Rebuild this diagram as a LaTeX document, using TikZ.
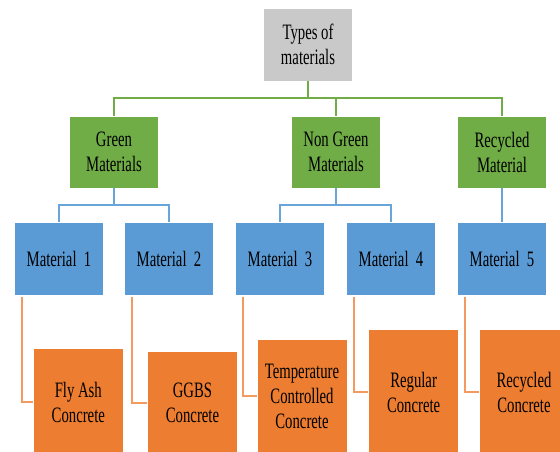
\documentclass[tikz,border=0pt]{standalone}
\usepackage{fontspec}
\newfontfamily\nf[FakeStretch=0.67]{Liberation Serif}
\definecolor{cgray}{HTML}{C9C9C9}
\definecolor{cgreen}{HTML}{70AD47}
\definecolor{cblue}{HTML}{5B9BD5}
\definecolor{corange}{HTML}{ED7D31}
\definecolor{clorange}{HTML}{F29A60}
\definecolor{clblue}{HTML}{6AA5DA}
\tikzset{
  box/.style={draw=white, line width=0.8pt, inner sep=0pt, align=center,
    minimum width=89.5pt, font=\nf\fontsize{22}{25}\selectfont, text=black},
  graybox/.style={box, fill=cgray, minimum height=73pt},
  greenbox/.style={box, fill=cgreen, minimum height=72pt},
  bluebox/.style={box, fill=cblue, minimum height=73pt},
  orangebox/.style={box, fill=corange, minimum width=90pt},
  gline/.style={draw=cgreen, line width=2.2pt},
  bline/.style={draw=clblue, line width=2pt},
  oline/.style={draw=clorange, line width=2pt},
}
\begin{document}
\begin{tikzpicture}[x=1pt,y=-1pt]
\useasboundingbox (0,0) rectangle (560,452);
\clip (0,0) rectangle (560,452);
\fill[white] (0,0) rectangle (560,452);
% top
\node[graybox] (top) at (308,44.5) {Types of\\materials};
% green
\node[greenbox] (gm) at (114,152) {Green\\Materials};
\node[greenbox] (ng) at (336,152) {Non Green\\Materials};
\node[greenbox] (rm) at (502,152) {Recycled\\Material};
% blue
\node[bluebox] (m1) at (59,258.5) {Material\ \ 1};
\node[bluebox] (m2) at (169,258.5) {Material\ \ 2};
\node[bluebox] (m3) at (280,258.5) {Material\ \ 3};
\node[bluebox] (m4) at (391,258.5) {Material\ \ 4};
\node[bluebox] (m5) at (502,258.5) {Material\ \ 5};
% orange
\node[orangebox, minimum height=108pt] (o1) at (78.3,402) {Fly Ash\\Concrete};
\node[orangebox, minimum height=104pt] (o2) at (192.5,403) {GGBS\\Concrete};
\node[orangebox, minimum height=114pt] (o3) at (302,396) {Temperature\\Controlled\\Concrete};
\node[orangebox, minimum height=126pt] (o4) at (413.6,392) {Regular\\Concrete};
\node[orangebox, minimum height=126pt] (o5) at (524,392) {Recycled\\Concrete};
% green connectors
\coordinate (gbus) at (308,98);
\draw[gline] (top.south) -- (gbus);
\draw[gline] (gm.north) -- (gm.north|-gbus) -- (rm.north|-gbus) -- (rm.north);
\draw[gline] (ng.north) -- (ng.north|-gbus);
% blue connectors
\coordinate (bbus) at (0,205);
\draw[bline] (gm.south) -- (gm.south|-bbus);
\draw[bline] (m1.north) -- (m1.north|-bbus) -- (m2.north|-bbus) -- (m2.north);
\draw[bline] (ng.south) -- (ng.south|-bbus);
\draw[bline] (m3.north) -- (m3.north|-bbus) -- (m4.north|-bbus) -- (m4.north);
\draw[bline] (rm.south) -- (m5.north);
% orange connectors
\draw[oline] ([xshift=8pt,yshift=-2pt]m1.south west) |- (o1.west);
\draw[oline] ([xshift=8pt,yshift=-2pt]m2.south west) |- (o2.west);
\draw[oline] ([xshift=8pt,yshift=-2pt]m3.south west) |- (o3.west);
\draw[oline] ([xshift=8pt,yshift=-2pt]m4.south west) |- (o4.west);
\draw[oline] ([xshift=8pt,yshift=-2pt]m5.south west) |- (o5.west);
\end{tikzpicture}
\end{document}
